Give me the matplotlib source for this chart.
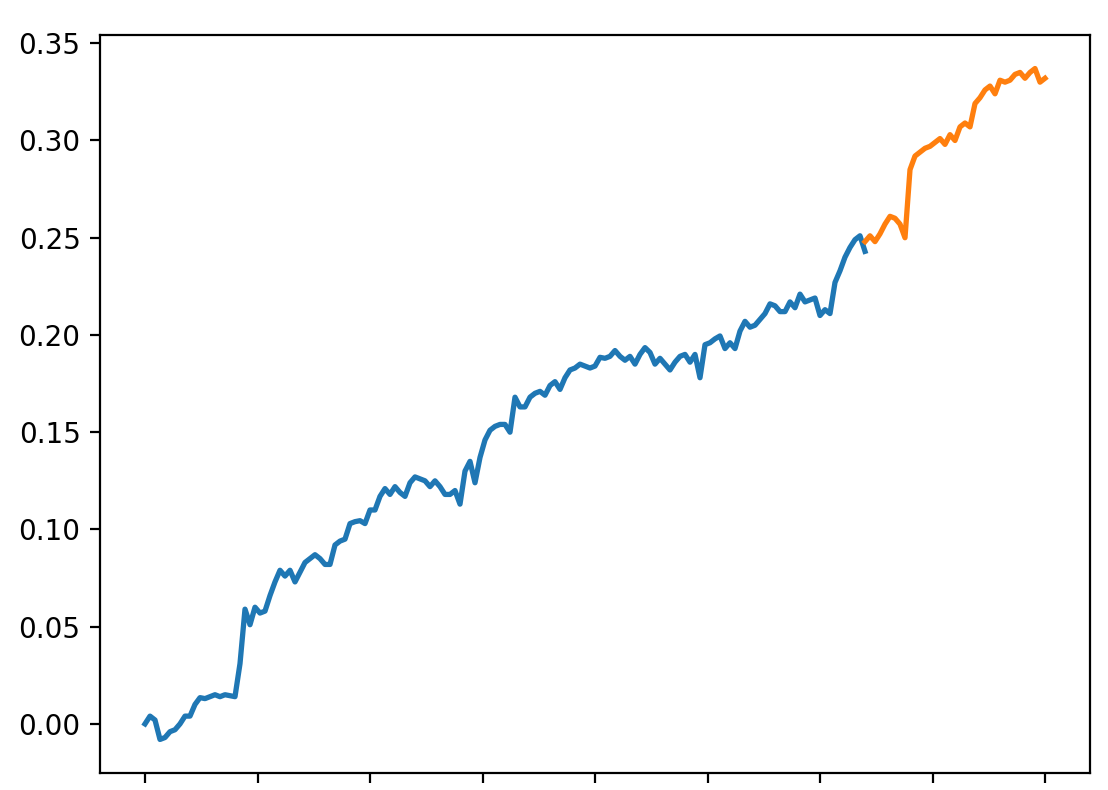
import numpy as np
import matplotlib
matplotlib.use('Agg')
import matplotlib.pyplot as plt

# cumulative return, in-sample (blue) and out-of-sample (orange)
train_curve = [
    0.000, 0.004, 0.002, -0.008, -0.007, -0.004, -0.003, 0.000, 0.004, 0.004,
    0.010, 0.0135, 0.013, 0.014, 0.015, 0.014, 0.015, 0.0145, 0.014, 0.031,
    0.059, 0.051, 0.060, 0.057, 0.058, 0.066, 0.073, 0.079, 0.076, 0.079,
    0.073, 0.078, 0.083, 0.085, 0.087, 0.085, 0.082, 0.082, 0.092, 0.094,
    0.095, 0.103, 0.104, 0.1045, 0.103, 0.110, 0.110, 0.117, 0.121, 0.118,
    0.122, 0.119, 0.117, 0.124, 0.127, 0.126, 0.125, 0.122, 0.125, 0.122,
    0.118, 0.118, 0.120, 0.113, 0.130, 0.135, 0.124, 0.137, 0.146, 0.151,
    0.153, 0.154, 0.154, 0.150, 0.168, 0.163, 0.163, 0.168, 0.170, 0.171,
    0.169, 0.174, 0.176, 0.172, 0.178, 0.182, 0.183, 0.185, 0.184, 0.183,
    0.184, 0.1885, 0.188, 0.189, 0.192, 0.189, 0.187, 0.189, 0.185, 0.190,
    0.1935, 0.191, 0.185, 0.188, 0.185, 0.182, 0.186, 0.189, 0.190, 0.186,
    0.190, 0.178, 0.195, 0.196, 0.198, 0.1995, 0.193, 0.196, 0.193, 0.202,
    0.207, 0.204, 0.205, 0.208, 0.211, 0.216, 0.215, 0.212, 0.212, 0.217,
    0.214, 0.221, 0.217, 0.218, 0.219, 0.210, 0.213, 0.211, 0.227, 0.233,
    0.240, 0.245, 0.249, 0.251, 0.243,
]
test_curve = [
    0.248, 0.251, 0.248, 0.252, 0.257, 0.261, 0.260, 0.257, 0.250, 0.285,
    0.292, 0.294, 0.296, 0.297, 0.299, 0.301, 0.298, 0.303, 0.300, 0.307,
    0.309, 0.307, 0.319, 0.322, 0.326, 0.328, 0.324, 0.331, 0.330, 0.331,
    0.334, 0.335, 0.332, 0.335, 0.337, 0.330, 0.332,
]

x_train = np.arange(len(train_curve))
x_test = np.arange(len(test_curve)) + len(train_curve) - 1
n_total = x_test[-1]

W, H = 1108, 790
fig = plt.figure(figsize=(W / 200, H / 200), dpi=200)
ax = fig.add_axes([100 / W, 17 / H, 990 / W, 738 / H])
ax.plot(x_train, train_curve, color='#1f77b4', linewidth=1.9)
ax.plot(x_test, test_curve, color='#ff7f0e', linewidth=1.9)

ax.set_xticks(np.linspace(0, n_total, 9))
ax.set_xticklabels([''] * 9)

fig.savefig('out.png', dpi=200)
